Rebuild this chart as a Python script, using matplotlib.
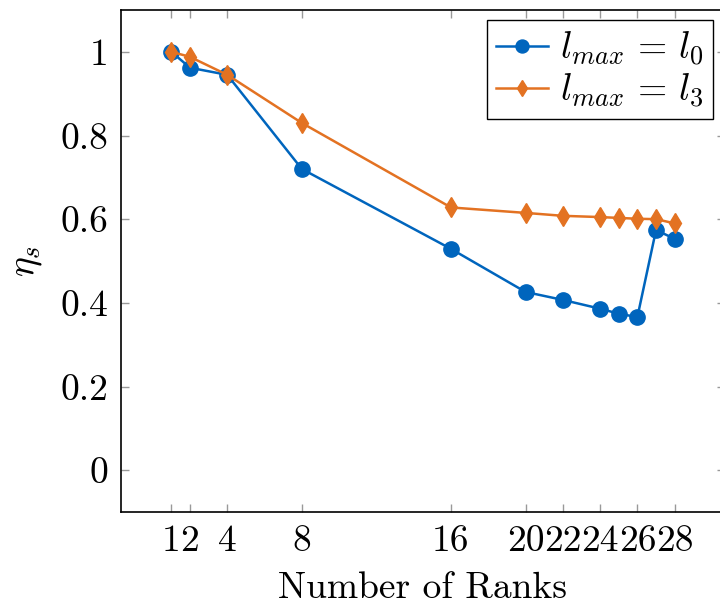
import matplotlib
matplotlib.use('Agg')
import matplotlib.pyplot as plt

plt.rcParams['font.family'] = 'cmr10'
plt.rcParams['mathtext.fontset'] = 'cm'
plt.rcParams['axes.formatter.use_mathtext'] = True

# data
ranks = [1, 2, 4, 8, 16, 20, 22, 24, 25, 26, 27, 28]
eta_l0 = [1.0, 0.962, 0.945, 0.720, 0.529, 0.426, 0.407, 0.386, 0.374, 0.366, 0.574, 0.553]
eta_l3 = [1.0, 0.988, 0.945, 0.830, 0.628, 0.615, 0.608, 0.605, 0.603, 0.601, 0.600, 0.590]
xtick_vals = [1, 2, 4, 8, 16, 20, 22, 24, 26, 28]
ytick_vals = [0, 0.2, 0.4, 0.6, 0.8, 1]
ytick_labels = ['0', '0.2', '0.4', '0.6', '0.8', '1']

fig = plt.figure(figsize=(7.2, 6.04), dpi=100)
ax = fig.add_axes([121/720, 92/604, 604/720, 502/604])

ax.plot(ranks, eta_l0, color='#0065bd', marker='o', markersize=11, linewidth=1.8,
        label=r'$l_{max}\,=\,l_0$')
ax.plot(ranks, eta_l3, color='#e37222', marker='d', markersize=10, linewidth=1.8,
        label=r'$l_{max}\,=\,l_3$')

ax.set_xlim(-1.7, 30.7)
ax.set_ylim(-0.1, 1.1)
ax.set_xticks(xtick_vals)
ax.set_xticklabels([str(v) for v in xtick_vals])
ax.set_yticks(ytick_vals)
ax.set_yticklabels(ytick_labels)
ax.tick_params(direction='in', length=6, color='#999999', width=1,
               top=True, right=True, labelsize=27, pad=9)
for s in ax.spines.values():
    s.set_linewidth(1.2)

ax.set_xlabel('Number of Ranks', fontsize=27, labelpad=10)
ax.set_ylabel(r'$\eta_s$', fontsize=27, labelpad=12)

ax.legend(loc='upper right', bbox_to_anchor=(592/604, 0.98), fontsize=27,
          frameon=True, fancybox=False, edgecolor='black', framealpha=1,
          borderpad=0.25, handlelength=1.4, handletextpad=0.3, labelspacing=0.1,
          borderaxespad=0, markerscale=0.85)

fig.savefig('out.png', dpi=100)
